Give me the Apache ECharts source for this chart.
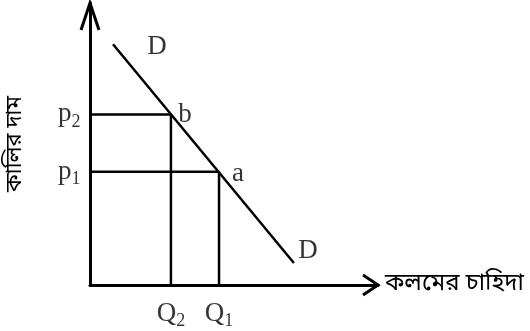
<!DOCTYPE html>
<html style="height:100%;width:100%;">
<head>
  <meta charset="utf-8">
  <title>কালির দাম ও কলমের চাহিদা</title>
  <script src="https://cdn.jsdelivr.net/npm/echarts@6/dist/echarts.min.js"></script>
</head>
<body style="margin:0px;height:100%;width:100%;background:#fff;">
  <div id="main" style="width:530px;height:331px"></div>
  <script type="text/javascript" charset="utf-8">
    // data (axis units 0..10)
    var qValues = [2.81, 4.48];          // Q2, Q1
    var qNames = ['2', '1'];
    var pValues = [6.05, 4.02];          // p2, p1
    var pNames = ['2', '1'];
    var demandLine = [[0.8, 8.54], [7.08, 0.78]];
    var pointNames = ['b', 'a'];
    var xTitle = 'কলমের চাহিদা';
    var yTitle = 'কালির দাম';

    var serif = "'Liberation Serif', 'Times New Roman', serif";
    var bangla = "'Noto Sans Bengali', 'Noto Sans', 'Noto Sans CJK SC', sans-serif";

    var myChart = echarts.init(document.getElementById('main'));

    var subRich = {
      m: { fontFamily: serif, fontSize: 27, color: '#000' },
      s: { fontFamily: serif, fontSize: 18, color: '#000', padding: [16, 0, 0, 0] }
    };

    var guideSeries = qValues.map(function (q, i) {
      return {
        type: 'line',
        symbol: 'none',
        silent: true,
        lineStyle: { color: '#000', width: 2.5 },
        data: [[0, pValues[i]], [q, pValues[i]], [q, 0]]
      };
    });

    option = {
      animation: false,
      grid: { left: 90, right: 152, top: 3, bottom: 46, outerBoundsMode: 'none', containLabel: false },
      xAxis: {
        type: 'value', min: 0, max: 10,
        splitLine: { show: false }, axisTick: { show: false }, axisLabel: { show: false },
        axisLine: { lineStyle: { color: '#000', width: 3 } },
        name: xTitle, nameLocation: 'end', nameGap: 7,
        nameTextStyle: { fontFamily: bangla, fontSize: 24, color: '#000', align: 'left', verticalAlign: 'middle', padding: [40, 0, 0, 0] }
      },
      yAxis: {
        type: 'value', min: 0, max: 10,
        splitLine: { show: false }, axisTick: { show: false }, axisLabel: { show: false },
        axisLine: { lineStyle: { color: '#000', width: 3 } },
        name: yTitle, nameLocation: 'middle', nameGap: 62, nameRotate: 90,
        nameTextStyle: { fontFamily: bangla, fontSize: 22, color: '#000' }
      },
      series: guideSeries.concat([
        {
          name: 'D',
          type: 'line',
          symbol: 'none',
          lineStyle: { color: '#000', width: 2.5 },
          data: demandLine
        },
        { // labels of the demand curve
          type: 'scatter', symbolSize: 1, itemStyle: { color: 'transparent' },
          label: { show: true, formatter: 'D', fontFamily: serif, fontSize: 27, color: '#000' },
          data: [
            { value: demandLine[0], label: { position: 'inside', offset: [44, 3] } },
            { value: demandLine[1], label: { position: 'inside', offset: [14, -12] } }
          ]
        },
        { // a, b
          type: 'scatter', symbolSize: 1, itemStyle: { color: 'transparent' },
          label: { show: true, fontFamily: serif, fontSize: 27, color: '#000', position: 'inside',
            formatter: function (p) { return pointNames[p.dataIndex]; } },
          data: [
            { value: [qValues[0], pValues[0]], label: { offset: [14, 1] } },
            { value: [qValues[1], pValues[1]], label: { offset: [19, 2] } }
          ]
        },
        { // p labels
          type: 'scatter', symbolSize: 1, itemStyle: { color: 'transparent' },
          label: { show: true, position: 'left', distance: 9, rich: subRich,
            formatter: function (p) { return '{m|p}{s|' + pNames[p.dataIndex] + '}'; } },
          data: pValues.map(function (v) { return [0, v]; })
        },
        { // Q labels
          type: 'scatter', symbolSize: 1, itemStyle: { color: 'transparent' },
          label: { show: true, position: 'bottom', distance: 11, rich: subRich,
            formatter: function (p) { return '{m|Q}{s|' + qNames[p.dataIndex] + '}'; } },
          data: qValues.map(function (v) { return [v, 0]; })
        }
      ])
    };

    myChart.setOption(option);

    // open arrow heads at the ends of both axes
    var yTip = myChart.convertToPixel({ gridIndex: 0 }, [0, 10]);
    var xTip = myChart.convertToPixel({ gridIndex: 0 }, [10, 0]);
    myChart.setOption({
      graphic: [
        { type: 'polyline', shape: { points: [[yTip[0] - 9, yTip[1] + 27], yTip, [yTip[0] + 9, yTip[1] + 27]] },
          style: { stroke: '#000', lineWidth: 3, fill: null } },
        { type: 'polyline', shape: { points: [[xTip[0] - 15, xTip[1] - 10], xTip, [xTip[0] - 15, xTip[1] + 10]] },
          style: { stroke: '#000', lineWidth: 3, fill: null } }
      ]
    });
  </script>
</body>
</html>
